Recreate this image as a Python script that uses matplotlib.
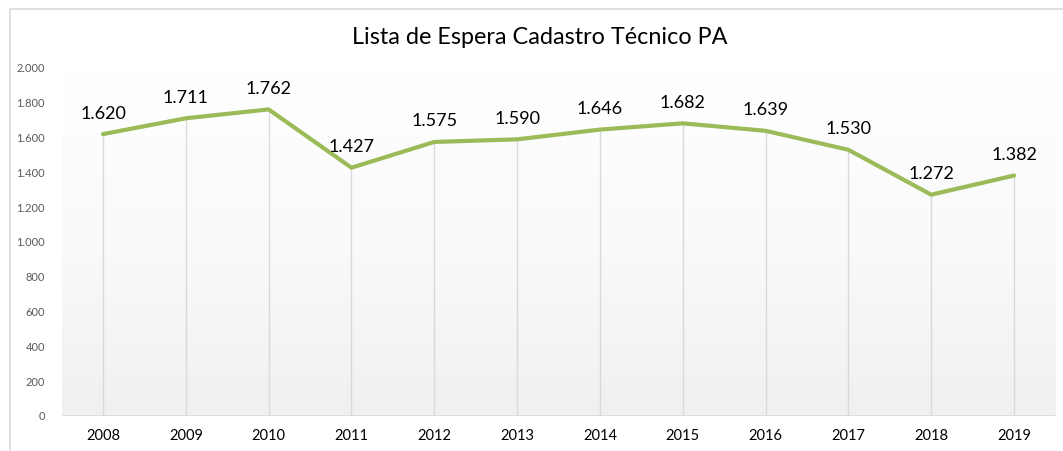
import numpy as np
import matplotlib
matplotlib.use("Agg")
import matplotlib.pyplot as plt
from matplotlib.patches import Rectangle

plt.rcParams['font.family'] = ['Lato', 'DejaVu Sans']

# data
years = ["2008", "2009", "2010", "2011", "2012", "2013",
         "2014", "2015", "2016", "2017", "2018", "2019"]
waiting = [1620, 1711, 1762, 1427, 1575, 1590, 1646, 1682, 1639, 1530, 1272, 1382]
y_ticks = [0, 200, 400, 600, 800, 1000, 1200, 1400, 1600, 1800, 2000]
title = "Lista de Espera Cadastro Técnico PA"


def fmt_pt(v):
    return f"{v:,}".replace(",", ".")


fig = plt.figure(figsize=(10.63, 4.51), dpi=100)
fig.patch.set_facecolor("white")
# chart frame
fig.add_artist(Rectangle((10 / 1063, -0.01), 1.1, 1 - 9 / 451 + 0.01,
                         transform=fig.transFigure, fill=False,
                         edgecolor="#d9d9d9", linewidth=1.2))

ax = fig.add_axes([61.6 / 1063, 1 - 416 / 451, (1055.4 - 61.6) / 1063, (416 - 68) / 451])
x = np.arange(len(years))
ax.set_xlim(-0.5, len(years) - 0.5)
ax.set_ylim(0, 2000)

# gradient background of plot area
grad = np.linspace(0, 1, 256).reshape(-1, 1)
ax.imshow(grad, extent=[-0.5, len(years) - 0.5, 0, 2000], aspect="auto",
          cmap=matplotlib.colors.LinearSegmentedColormap.from_list("g", ["#f0f0f0", "#fafafa", "#ffffff"]),
          origin="lower", zorder=0)

# drop lines
ax.vlines(x, 0, waiting, colors="#d9d9d9", linewidth=1, zorder=1)
ax.axhline(0, color="#d9d9d9", linewidth=1.2, zorder=1)

ax.plot(x, waiting, color="#9bbb59", linewidth=3, solid_capstyle="round",
        solid_joinstyle="round", zorder=3)

for xi, v in zip(x, waiting):
    ax.annotate(fmt_pt(v), (xi, v), xytext=(0, 9), textcoords="offset points",
                ha="center", va="bottom", fontsize=13, color="#000000", zorder=4)

ax.set_xticks(x)
ax.set_xticklabels(years, fontsize=10.5, color="#000000")
ax.set_yticks(y_ticks)
ax.set_yticklabels([fmt_pt(t) for t in y_ticks], fontsize=8, color="#595959")
ax.tick_params(length=0)
ax.tick_params(axis="x", pad=9)
ax.tick_params(axis="y", pad=12)
for s in ax.spines.values():
    s.set_visible(False)

fig.text(540 / 1063, 1 - 38 / 451, title, ha="center", va="center", fontsize=16.8, color="#000000")

fig.savefig("out.png", dpi=100)
